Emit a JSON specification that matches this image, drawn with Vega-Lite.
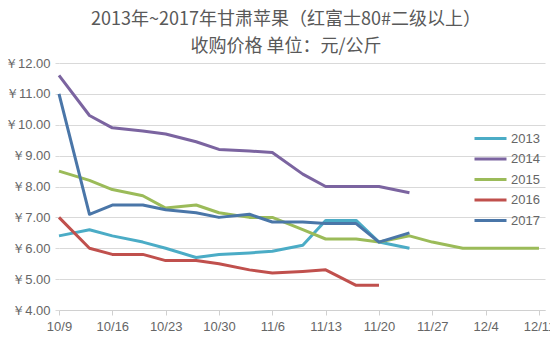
{
  "$schema": "https://vega.github.io/schema/vega-lite/v6.json",
  "width": 486,
  "height": 247,
  "autosize": {"type": "none"},
  "padding": {"left": 59, "top": 63, "right": 5, "bottom": 41},
  "background": "white",
  "title": {
    "text": ["2013年~2017年甘肃苹果（红富士80#二级以上）", "收购价格  单位：元/公斤"],
    "font": "Noto Sans CJK SC",
    "fontSize": 18,
    "fontWeight": "normal",
    "color": "#595959",
    "anchor": "middle",
    "lineHeight": 27,
    "dx": -16,
    "offset": 1
  },
  "config": {
    "view": {"stroke": null},
    "axis": {"labelFont": "Liberation Sans", "labelFontSize": 13, "labelColor": "#666666"}
  },
  "data": {
    "values": [
      {"date": "2016-10-09", "year": "2013", "price": 6.4},
      {"date": "2016-10-13", "year": "2013", "price": 6.6},
      {"date": "2016-10-16", "year": "2013", "price": 6.4},
      {"date": "2016-10-20", "year": "2013", "price": 6.2},
      {"date": "2016-10-23", "year": "2013", "price": 6.0},
      {"date": "2016-10-27", "year": "2013", "price": 5.7},
      {"date": "2016-10-30", "year": "2013", "price": 5.8},
      {"date": "2016-11-03", "year": "2013", "price": 5.85},
      {"date": "2016-11-06", "year": "2013", "price": 5.9},
      {"date": "2016-11-10", "year": "2013", "price": 6.1},
      {"date": "2016-11-13", "year": "2013", "price": 6.9},
      {"date": "2016-11-17", "year": "2013", "price": 6.9},
      {"date": "2016-11-20", "year": "2013", "price": 6.2},
      {"date": "2016-11-24", "year": "2013", "price": 6.0},

      {"date": "2016-10-09", "year": "2014", "price": 11.6},
      {"date": "2016-10-13", "year": "2014", "price": 10.3},
      {"date": "2016-10-16", "year": "2014", "price": 9.9},
      {"date": "2016-10-20", "year": "2014", "price": 9.8},
      {"date": "2016-10-23", "year": "2014", "price": 9.7},
      {"date": "2016-10-27", "year": "2014", "price": 9.45},
      {"date": "2016-10-30", "year": "2014", "price": 9.2},
      {"date": "2016-11-03", "year": "2014", "price": 9.15},
      {"date": "2016-11-06", "year": "2014", "price": 9.1},
      {"date": "2016-11-10", "year": "2014", "price": 8.4},
      {"date": "2016-11-13", "year": "2014", "price": 8.0},
      {"date": "2016-11-17", "year": "2014", "price": 8.0},
      {"date": "2016-11-20", "year": "2014", "price": 8.0},
      {"date": "2016-11-24", "year": "2014", "price": 7.8},

      {"date": "2016-10-09", "year": "2015", "price": 8.5},
      {"date": "2016-10-13", "year": "2015", "price": 8.2},
      {"date": "2016-10-16", "year": "2015", "price": 7.9},
      {"date": "2016-10-20", "year": "2015", "price": 7.7},
      {"date": "2016-10-23", "year": "2015", "price": 7.3},
      {"date": "2016-10-27", "year": "2015", "price": 7.4},
      {"date": "2016-10-30", "year": "2015", "price": 7.15},
      {"date": "2016-11-03", "year": "2015", "price": 7.0},
      {"date": "2016-11-06", "year": "2015", "price": 7.0},
      {"date": "2016-11-10", "year": "2015", "price": 6.6},
      {"date": "2016-11-13", "year": "2015", "price": 6.3},
      {"date": "2016-11-17", "year": "2015", "price": 6.3},
      {"date": "2016-11-20", "year": "2015", "price": 6.2},
      {"date": "2016-11-24", "year": "2015", "price": 6.4},
      {"date": "2016-11-27", "year": "2015", "price": 6.2},
      {"date": "2016-12-01", "year": "2015", "price": 6.0},
      {"date": "2016-12-04", "year": "2015", "price": 6.0},
      {"date": "2016-12-08", "year": "2015", "price": 6.0},
      {"date": "2016-12-11", "year": "2015", "price": 6.0},

      {"date": "2016-10-09", "year": "2016", "price": 7.0},
      {"date": "2016-10-13", "year": "2016", "price": 6.0},
      {"date": "2016-10-16", "year": "2016", "price": 5.8},
      {"date": "2016-10-20", "year": "2016", "price": 5.8},
      {"date": "2016-10-23", "year": "2016", "price": 5.6},
      {"date": "2016-10-27", "year": "2016", "price": 5.6},
      {"date": "2016-10-30", "year": "2016", "price": 5.5},
      {"date": "2016-11-03", "year": "2016", "price": 5.3},
      {"date": "2016-11-06", "year": "2016", "price": 5.2},
      {"date": "2016-11-10", "year": "2016", "price": 5.25},
      {"date": "2016-11-13", "year": "2016", "price": 5.3},
      {"date": "2016-11-17", "year": "2016", "price": 4.8},
      {"date": "2016-11-20", "year": "2016", "price": 4.8},

      {"date": "2016-10-09", "year": "2017", "price": 11.0},
      {"date": "2016-10-13", "year": "2017", "price": 7.1},
      {"date": "2016-10-16", "year": "2017", "price": 7.4},
      {"date": "2016-10-20", "year": "2017", "price": 7.4},
      {"date": "2016-10-23", "year": "2017", "price": 7.25},
      {"date": "2016-10-27", "year": "2017", "price": 7.15},
      {"date": "2016-10-30", "year": "2017", "price": 7.0},
      {"date": "2016-11-03", "year": "2017", "price": 7.1},
      {"date": "2016-11-06", "year": "2017", "price": 6.85},
      {"date": "2016-11-10", "year": "2017", "price": 6.85},
      {"date": "2016-11-13", "year": "2017", "price": 6.8},
      {"date": "2016-11-17", "year": "2017", "price": 6.8},
      {"date": "2016-11-20", "year": "2017", "price": 6.2},
      {"date": "2016-11-24", "year": "2017", "price": 6.5}
    ]
  },
  "mark": {"type": "line", "strokeWidth": 3, "strokeJoin": "round"},
  "encoding": {
    "x": {
      "field": "date",
      "type": "temporal",
      "scale": {
        "type": "utc",
        "domain": [
          {"year": 2016, "month": 10, "date": 9, "utc": true},
          {"year": 2016, "month": 12, "date": 11, "hours": 19, "utc": true}
        ]
      },
      "axis": {
        "title": null,
        "grid": false,
        "format": "%-m/%-d",
        "values": [
          {"year": 2016, "month": 10, "date": 9, "utc": true},
          {"year": 2016, "month": 10, "date": 16, "utc": true},
          {"year": 2016, "month": 10, "date": 23, "utc": true},
          {"year": 2016, "month": 10, "date": 30, "utc": true},
          {"year": 2016, "month": 11, "date": 6, "utc": true},
          {"year": 2016, "month": 11, "date": 13, "utc": true},
          {"year": 2016, "month": 11, "date": 20, "utc": true},
          {"year": 2016, "month": 11, "date": 27, "utc": true},
          {"year": 2016, "month": 12, "date": 4, "utc": true},
          {"year": 2016, "month": 12, "date": 11, "utc": true}
        ],
        "domainColor": "#d0d0d0",
        "tickColor": "#d0d0d0",
        "tickSize": 5,
        "labelPadding": 5,
        "labelOverlap": false,
        "labelFlush": false
      }
    },
    "y": {
      "field": "price",
      "type": "quantitative",
      "scale": {"domain": [4, 12], "nice": false, "zero": false},
      "axis": {
        "title": null,
        "values": [4, 5, 6, 7, 8, 9, 10, 11, 12],
        "labelExpr": "'￥' + format(datum.value, '.2f')",
        "domain": false,
        "ticks": true,
        "tickSize": 4,
        "tickColor": "#d9d9d9",
        "labelPadding": 5,
        "gridColor": "#d9d9d9",
        "gridWidth": 1
      }
    },
    "color": {
      "field": "year",
      "type": "nominal",
      "scale": {
        "domain": ["2013", "2014", "2015", "2016", "2017"],
        "range": ["#4bacc6", "#7b64a0", "#9bbb59", "#c0504d", "#4a76a8"]
      },
      "legend": {
        "title": null,
        "orient": "none",
        "legendX": 422,
        "legendY": 66,
        "symbolType": "M-2,0H2",
        "symbolSize": 256,
        "symbolStrokeWidth": 3,
        "labelFont": "Liberation Sans",
        "labelFontSize": 13,
        "labelColor": "#666666",
        "labelOffset": 11,
        "rowPadding": 3.5
      }
    }
  }
}
